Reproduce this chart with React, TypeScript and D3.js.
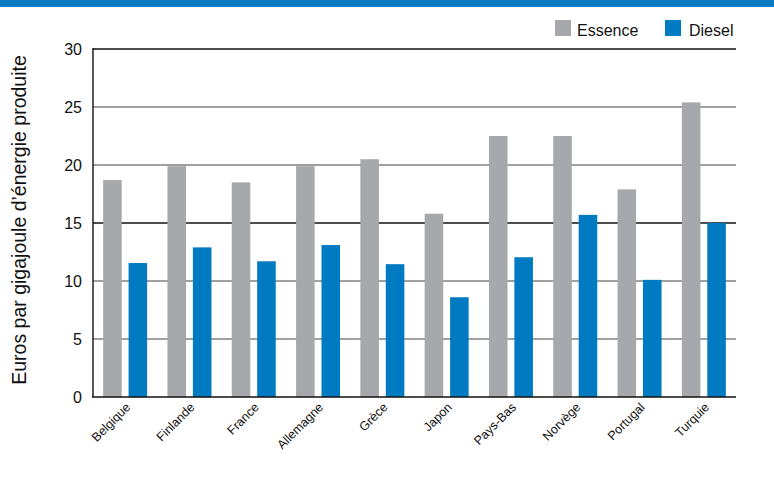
import React from "react";
import * as d3 from "d3";

const countries = ["Belgique", "Finlande", "France", "Allemagne", "Grèce", "Japon", "Pays-Bas", "Norvège", "Portugal", "Turquie"];
const essence = [18.7, 19.9, 18.5, 19.9, 20.5, 15.8, 22.5, 22.5, 17.9, 25.4];
const diesel = [11.55, 12.9, 11.7, 13.1, 11.45, 8.6, 12.05, 15.7, 10.1, 15.0];
const yTicks = [0, 5, 10, 15, 20, 25, 30];
const seriesNames = ["Essence", "Diesel"];

const W = 774, H = 502;
const left = 93, right = 736, top = 49, bottom = 397;
const GRAY = "#a7a8ac", BLUE = "#007bc2";
const FONT = "'Liberation Sans', Arial, Helvetica, sans-serif";

export default function App() {
  const x = d3.scaleBand<string>().domain(countries).range([left, right]).paddingInner(0).paddingOuter(0);
  const inner = d3.scaleBand<string>().domain(seriesNames).range([0, 44]).paddingInner(0.27);
  const y = d3.scaleLinear().domain([0, 30]).range([bottom, top]);
  const off = (x.bandwidth() - 44) / 2;
  const series = [essence, diesel];
  const colors = [GRAY, BLUE];
  const c45 = Math.SQRT1_2;

  return (
    <svg width={W} height={H} style={{ position: "absolute", left: 0, top: 0, background: "#fff" }} fontFamily={FONT}>
      <rect x={0} y={0} width={W} height={7} fill="#0a7bc2" />
      {yTicks.filter(t => t > 0).map(t => (
        <line key={t} x1={left} x2={right} y1={y(t)} y2={y(t)}
          stroke={t === 30 || t === 15 ? "#111" : "#808080"} strokeWidth={1.4} />
      ))}
      {countries.map((c, i) => (
        <g key={c}>
          {series.map((s, k) => (
            <rect key={k} x={(x(c) as number) + off + (inner(seriesNames[k]) as number)} y={y(s[i])}
              width={inner.bandwidth()} height={y(0) - y(s[i])} fill={colors[k]} />
          ))}
        </g>
      ))}
      <line x1={left} x2={left} y1={top - 1} y2={bottom} stroke="#111" strokeWidth={1.4} />
      <line x1={left - 1} x2={right} y1={bottom} y2={bottom} stroke="#111" strokeWidth={1.6} />
      {yTicks.map(t => (
        <text key={t} x={82} y={y(t)} dy="0.36em" textAnchor="end" fontSize={16} fill="#111">{t}</text>
      ))}
      {countries.map(c => {
        const cx = (x(c) as number) + x.bandwidth() / 2 + 6;
        return (
          <text key={c} transform={`matrix(${c45},${-c45},${c45},${c45},${cx},408)`} textAnchor="end" fontSize={12.5} fill="#111">{c}</text>
        );
      })}
      <g transform={`translate(26,220)`}>
        <text transform="rotate(-90)" textAnchor="middle" fontSize={19.5} fill="#111">Euros par gigajoule d’énergie produite</text>
      </g>
      <rect x={555} y={20} width={16} height={16} fill={GRAY} />
      <text x={577} y={36} fontSize={16} fill="#111">Essence</text>
      <rect x={665} y={20} width={16} height={16} fill={BLUE} />
      <text x={689} y={36} fontSize={16} fill="#111">Diesel</text>
    </svg>
  );
}
